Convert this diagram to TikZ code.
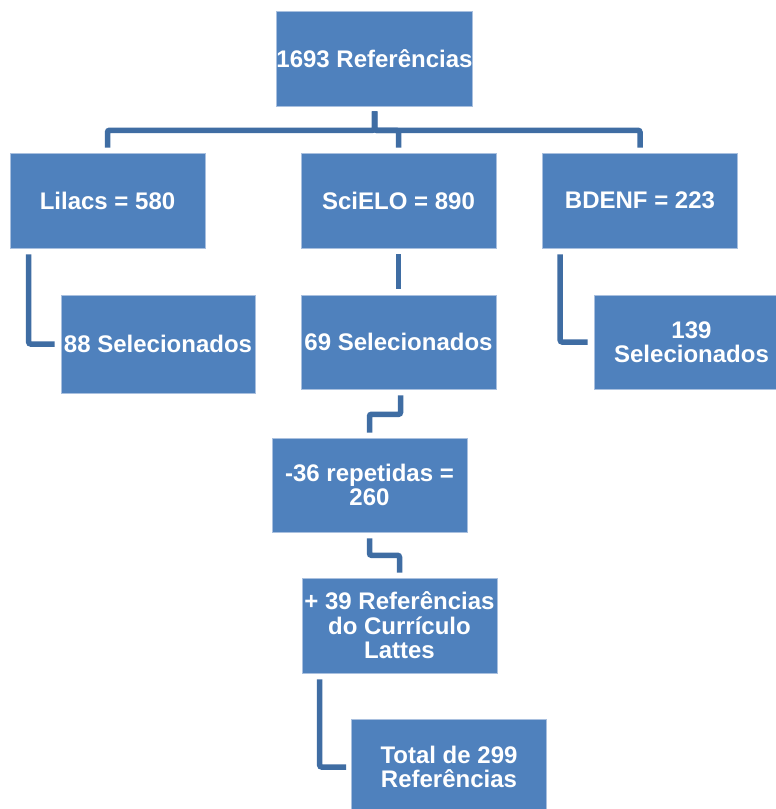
\documentclass[tikz,border=0pt]{standalone}
\usepackage{fontspec}
\setmainfont{Liberation Sans}
\usetikzlibrary{calc}
\definecolor{boxblue}{HTML}{4F81BD}
\definecolor{boxedge}{HTML}{A9C0DF}
\definecolor{linkblue}{HTML}{3F6DA3}
\begin{document}
\begin{tikzpicture}[x=1pt,y=-1pt,
  box/.style={rectangle, fill=boxblue, draw=boxedge, line width=0.6pt,
    minimum width=195pt, minimum height=95pt, inner sep=0pt, text=white,
    font=\bfseries\fontsize{24}{24.5}\selectfont, align=center},
  link/.style={draw=linkblue, line width=5.5pt, rounded corners=2pt}]
\useasboundingbox (0,0) rectangle (776,809);
\fill[white] (0,0) rectangle (776,809);

\node[box] (top) at (374.5,58.5) {1693 Referências};
\node[box] (lil) at (107.5,200.5) {Lilacs = 580};
\node[box] (sci) at (398.5,200.5) {SciELO = 890};
\node[box] (bde) at (640,200.5) {BDENF = 223};
\node[box, minimum width=194pt, minimum height=98pt] (s88) at (158,344) {88 Selecionados};
\node[box, minimum height=94pt] (s69) at (398.5,342) {69 Selecionados};
\node[box, minimum height=94pt] (s139) at (691.5,342) {139\\Selecionados};
\node[box, minimum height=94pt] (m36) at (369.5,485) {-36 repetidas =\\260};
\node[box] (p39) at (399.5,625.5) {+ 39 Referências\\do Currículo\\Lattes};
\node[box] (tot) at (449,767) {Total de 299\\Referências};

\draw[link] ($(top.south)+(0,5)$) -- ($(top.south)+(0,24)$) -| ($(lil.north)+(0,-5)$);
\draw[link] ($(top.south)+(0,5)$) -- ($(top.south)+(0,24)$) -| ($(sci.north)+(0,-5)$);
\draw[link] ($(top.south)+(0,5)$) -- ($(top.south)+(0,24)$) -| ($(bde.north)+(0,-5)$);

\draw[link] ($(lil.south west)+(19,6)$) |- ($(s88.west)+(-6,0)$);
\draw[link] ($(sci.south)+(0,6)$) -- ($(s69.north)+(0,-6)$);
\draw[link] ($(bde.south west)+(18,6)$) |- ($(s139.west)+(-6,0)$);

\draw[link] ($(s69.south)+(2,6)$) -- ++(0,19) -| ($(m36.north)+(0,-5)$);
\draw[link] ($(m36.south)+(0,6)$) -- ++(0,17) -| ($(p39.north)+(0,-5)$);
\draw[link] ($(p39.south west)+(18,6)$) |- ($(tot.west)+(-5,0)$);
\end{tikzpicture}
\end{document}
